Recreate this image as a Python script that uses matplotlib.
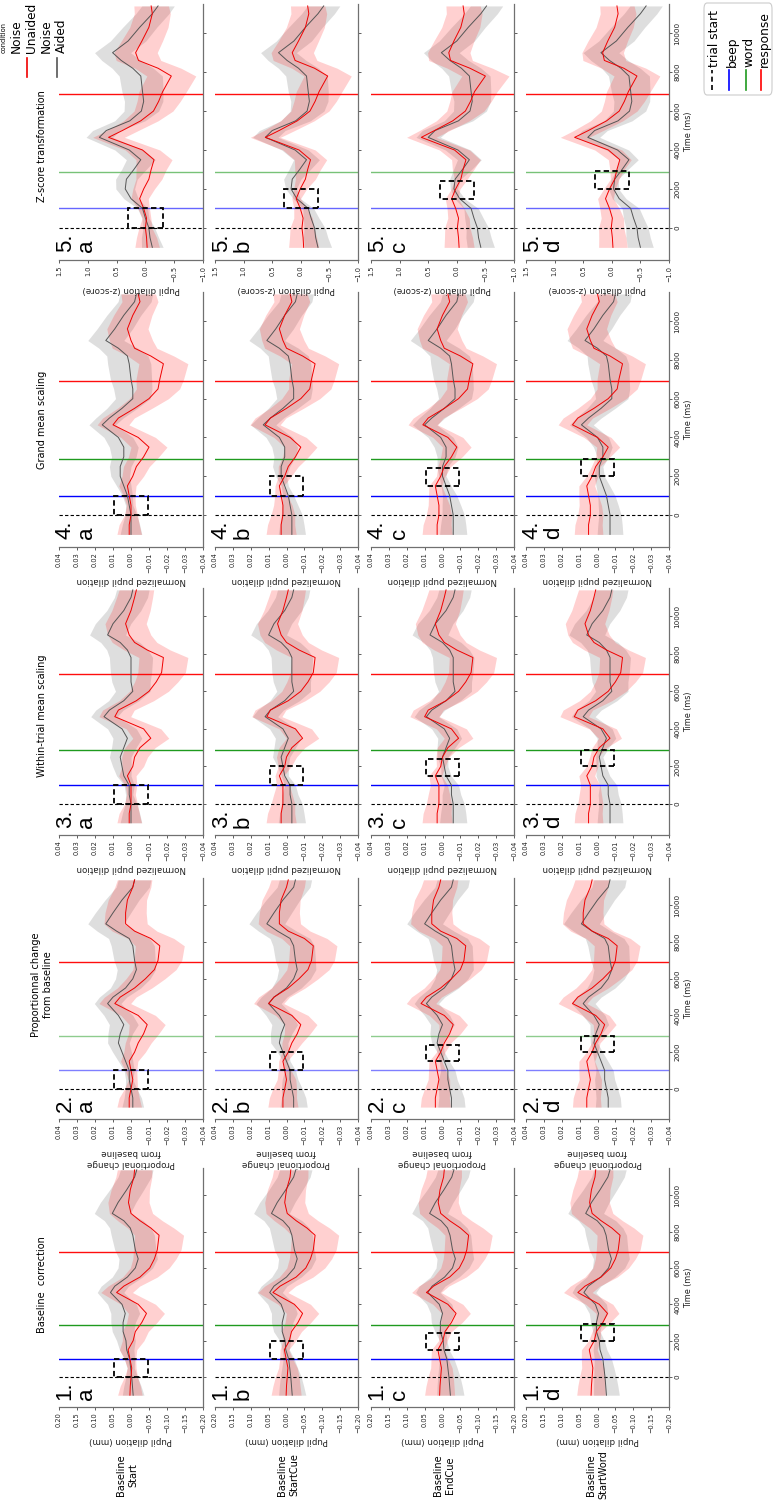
import numpy as np
import matplotlib
matplotlib.use("Agg")
import matplotlib.pyplot as plt
from matplotlib.patches import Rectangle, FancyBboxPatch
from matplotlib.lines import Line2D

plt.rcParams['font.family'] = ['DejaVu Sans']

W, H, DPI = 774, 1503, 100

# ---------------- data ----------------
time_ms = [-1000, -500, 0, 500, 1000, 1500, 2000, 2500, 3000, 3500, 4000, 4650, 5000,
           5500, 6000, 6500, 7000, 7800, 8200, 8600, 9000, 9600, 10300, 11000, 11400]

event_names = ['trial start', 'beep', 'word', 'response']
event_times = [0, 1000, 2870, 6900]

method_titles = ['Baseline  correction', 'Proportionnal change\nfrom baseline',
                 'Within-trial mean scaling', 'Grand mean scaling', 'Z-score transformation']
value_labels = ['Pupil dilation (mm)', 'Proportional change\nfrom baseline',
                'Normalized pupil dilation', 'Normalized pupil dilation', 'Pupil dilation (z-score)']
row_labels = ['Baseline\nStart', 'Baseline\nStartCue', 'Baseline\nEndCue', 'Baseline\nStartWord']
row_letters = ['a', 'b', 'c', 'd']
baseline_windows = [(0, 1000), (1000, 2000), (1500, 2400), (2000, 2900)]
value_limits = [(0.20, -0.20), (0.04, -0.04), (0.04, -0.04), (0.04, -0.04), (1.5, -1.0)]
ticks_mm = [0.20, 0.15, 0.10, 0.05, 0.00, -0.05, -0.10, -0.15, -0.20]
ticks_small = [0.04, 0.03, 0.02, 0.01, 0.00, -0.01, -0.02, -0.03, -0.04]
ticks_z = [1.5, 1.0, 0.5, 0.0, -0.5, -1.0]
box_halfwidth = [0.047, 0.0095, 0.0095, 0.0095, 0.3]
time_ticks = [0, 2000, 4000, 6000, 8000, 10000]

# Noise Unaided (red) and Noise Aided (grey) mean curves, rows a..d
m1_unaided = [
    [0.003, 0.002, 0.000, -0.002, 0.003, 0.008, -0.006, -0.012, -0.030, -0.043, -0.020, 0.040, 0.020, -0.025, -0.052, -0.065, -0.073, -0.078, -0.055, -0.025, 0.000, 0.007, 0.002, -0.008, -0.010],
    [0.001, 0.000, -0.002, -0.004, 0.001, 0.006, -0.008, -0.014, -0.032, -0.045, -0.022, 0.038, 0.018, -0.027, -0.054, -0.067, -0.075, -0.080, -0.057, -0.027, -0.002, 0.005, 0.000, -0.010, -0.012],
    [0.008, 0.007, 0.005, 0.003, 0.008, 0.013, -0.001, -0.007, -0.025, -0.038, -0.015, 0.045, 0.025, -0.020, -0.047, -0.060, -0.068, -0.073, -0.050, -0.020, 0.005, 0.012, 0.007, -0.003, -0.005],
    [0.018, 0.017, 0.015, 0.013, 0.018, 0.023, 0.009, 0.003, -0.015, -0.028, -0.005, 0.055, 0.035, -0.010, -0.037, -0.050, -0.058, -0.063, -0.040, -0.010, 0.015, 0.022, 0.017, 0.007, 0.005],
]
m1_aided = [
    [-0.006, -0.004, -0.002, 0.001, 0.004, 0.012, 0.014, 0.022, 0.022, 0.016, 0.025, 0.057, 0.045, 0.010, -0.012, -0.020, -0.012, -0.005, 0.002, 0.020, 0.052, 0.036, 0.012, -0.010, -0.016],
    [-0.016, -0.014, -0.012, -0.009, -0.006, 0.002, 0.004, 0.012, 0.012, 0.006, 0.015, 0.047, 0.035, 0.000, -0.022, -0.030, -0.022, -0.015, -0.008, 0.010, 0.042, 0.026, 0.002, -0.020, -0.026],
    [-0.022, -0.020, -0.018, -0.015, -0.012, -0.004, -0.002, 0.006, 0.006, 0.000, 0.009, 0.041, 0.029, -0.006, -0.028, -0.036, -0.028, -0.021, -0.014, 0.004, 0.036, 0.020, -0.004, -0.026, -0.032],
    [-0.025, -0.023, -0.021, -0.018, -0.015, -0.007, -0.005, 0.003, 0.003, -0.003, 0.006, 0.038, 0.026, -0.009, -0.031, -0.039, -0.031, -0.024, -0.017, 0.001, 0.033, 0.017, -0.007, -0.029, -0.035],
]
m2_unaided = [
    [0.001, 0.001, 0.000, -0.001, 0.000, 0.001, -0.002, -0.004, -0.007, -0.009, -0.004, 0.009, 0.006, -0.002, -0.008, -0.013, -0.015, -0.016, -0.011, -0.002, 0.003, 0.003, 0.002, -0.001, -0.002],
    [0.002, 0.002, 0.001, 0.000, 0.001, 0.002, -0.001, -0.003, -0.006, -0.008, -0.003, 0.010, 0.007, -0.001, -0.007, -0.012, -0.014, -0.015, -0.010, -0.001, 0.004, 0.004, 0.003, 0.000, -0.001],
    [0.004, 0.004, 0.003, 0.002, 0.003, 0.004, 0.001, -0.001, -0.004, -0.006, -0.001, 0.012, 0.009, 0.001, -0.005, -0.010, -0.012, -0.013, -0.008, 0.001, 0.006, 0.006, 0.005, 0.002, 0.001],
    [0.006, 0.006, 0.005, 0.004, 0.005, 0.006, 0.003, 0.001, -0.002, -0.004, 0.001, 0.014, 0.011, 0.003, -0.003, -0.008, -0.010, -0.011, -0.006, 0.003, 0.008, 0.008, 0.007, 0.004, 0.003],
]
m2_aided = [
    [-0.001, -0.001, 0.000, 0.001, 0.001, 0.003, 0.005, 0.007, 0.006, 0.004, 0.007, 0.013, 0.010, 0.003, -0.001, -0.003, -0.002, -0.001, 0.001, 0.008, 0.014, 0.010, 0.005, -0.001, -0.002],
    [-0.004, -0.004, -0.003, -0.002, -0.002, 0.000, 0.002, 0.004, 0.003, 0.001, 0.004, 0.010, 0.007, 0.000, -0.004, -0.006, -0.005, -0.004, -0.002, 0.005, 0.011, 0.007, 0.002, -0.004, -0.005],
    [-0.005, -0.005, -0.004, -0.003, -0.003, -0.001, 0.001, 0.003, 0.002, 0.000, 0.003, 0.009, 0.006, -0.001, -0.005, -0.007, -0.006, -0.005, -0.003, 0.004, 0.010, 0.006, 0.001, -0.005, -0.006],
    [-0.006, -0.006, -0.005, -0.004, -0.004, -0.002, 0.000, 0.002, 0.001, -0.001, 0.002, 0.008, 0.005, -0.002, -0.006, -0.008, -0.007, -0.006, -0.004, 0.003, 0.009, 0.005, 0.000, -0.006, -0.007],
]
m3_unaided = [
    [0.001, 0.001, 0.000, 0.000, 0.000, 0.002, -0.001, -0.002, -0.005, -0.011, -0.007, 0.009, 0.007, -0.003, -0.010, -0.014, -0.017, -0.018, -0.009, -0.002, 0.001, 0.003, 0.000, -0.002, -0.003],
    [0.003, 0.003, 0.002, 0.002, 0.002, 0.004, 0.001, 0.000, -0.003, -0.009, -0.005, 0.011, 0.009, -0.001, -0.008, -0.012, -0.015, -0.016, -0.007, 0.000, 0.003, 0.005, 0.002, 0.000, -0.001],
    [0.003, 0.003, 0.002, 0.002, 0.002, 0.004, 0.001, 0.000, -0.003, -0.009, -0.005, 0.010, 0.008, -0.002, -0.009, -0.013, -0.016, -0.017, -0.008, -0.001, 0.002, 0.004, 0.001, -0.001, -0.002],
    [0.005, 0.005, 0.004, 0.004, 0.004, 0.006, 0.003, 0.002, -0.001, -0.007, -0.003, 0.013, 0.011, 0.001, -0.006, -0.010, -0.013, -0.014, -0.005, 0.002, 0.005, 0.007, 0.004, 0.002, 0.001],
]
m3_aided = [
    [0.000, 0.000, 0.000, 0.001, 0.001, 0.004, 0.005, 0.006, 0.004, 0.002, 0.005, 0.015, 0.012, 0.004, -0.001, 0.000, 0.000, 0.000, 0.002, 0.006, 0.013, 0.010, 0.004, 0.000, -0.001],
    [-0.003, -0.003, -0.003, -0.002, -0.002, 0.001, 0.002, 0.003, 0.001, -0.001, 0.002, 0.012, 0.009, 0.001, -0.004, -0.003, -0.003, -0.003, -0.001, 0.003, 0.010, 0.007, 0.001, -0.003, -0.004],
    [-0.006, -0.006, -0.006, -0.005, -0.005, -0.002, -0.001, 0.000, -0.002, -0.004, -0.001, 0.009, 0.006, -0.002, -0.007, -0.006, -0.006, -0.006, -0.004, 0.000, 0.007, 0.004, -0.002, -0.006, -0.007],
    [-0.007, -0.007, -0.007, -0.006, -0.006, -0.003, -0.002, -0.001, -0.003, -0.005, -0.002, 0.008, 0.005, -0.003, -0.008, -0.007, -0.007, -0.007, -0.005, -0.001, 0.006, 0.003, -0.003, -0.007, -0.008],
]
m4_unaided = [
    [0.001, 0.001, 0.000, 0.000, 0.001, 0.002, -0.001, -0.003, -0.007, -0.010, -0.004, 0.010, 0.007, -0.002, -0.010, -0.015, -0.016, -0.018, -0.011, -0.002, 0.000, 0.002, -0.001, -0.005, -0.004],
    [0.003, 0.003, 0.002, 0.002, 0.003, 0.004, 0.001, -0.001, -0.005, -0.008, -0.002, 0.012, 0.009, 0.000, -0.008, -0.013, -0.014, -0.016, -0.009, 0.000, 0.002, 0.004, 0.001, -0.003, -0.002],
    [0.003, 0.003, 0.002, 0.002, 0.003, 0.004, 0.001, -0.001, -0.005, -0.008, -0.003, 0.011, 0.008, -0.001, -0.009, -0.014, -0.015, -0.017, -0.010, -0.001, 0.001, 0.003, 0.000, -0.004, -0.003],
    [0.005, 0.005, 0.004, 0.004, 0.005, 0.006, 0.003, 0.001, -0.003, -0.006, 0.000, 0.014, 0.011, 0.002, -0.006, -0.011, -0.012, -0.014, -0.007, 0.002, 0.004, 0.006, 0.003, -0.001, 0.000],
]
m4_aided = [
    [0.000, 0.000, 0.000, 0.001, 0.002, 0.004, 0.006, 0.006, 0.004, 0.004, 0.007, 0.016, 0.012, 0.005, -0.001, -0.001, 0.000, 0.001, 0.002, 0.007, 0.014, 0.009, 0.004, -0.002, -0.003],
    [-0.003, -0.003, -0.003, -0.002, -0.001, 0.001, 0.003, 0.003, 0.001, 0.001, 0.004, 0.013, 0.009, 0.002, -0.004, -0.004, -0.003, -0.002, -0.001, 0.004, 0.011, 0.006, 0.001, -0.005, -0.006],
    [-0.006, -0.006, -0.006, -0.005, -0.004, -0.002, 0.000, 0.000, -0.002, -0.002, 0.001, 0.010, 0.006, -0.001, -0.007, -0.007, -0.006, -0.005, -0.004, 0.001, 0.008, 0.003, -0.002, -0.008, -0.009],
    [-0.007, -0.007, -0.007, -0.006, -0.005, -0.003, -0.001, -0.001, -0.003, -0.003, 0.000, 0.009, 0.005, -0.002, -0.008, -0.008, -0.007, -0.006, -0.005, 0.000, 0.007, 0.002, -0.003, -0.009, -0.010],
]
m5_unaided = [
    [-0.03, -0.02, 0.00, -0.02, 0.03, 0.10, 0.03, -0.06, -0.10, -0.15, 0.05, 0.64, 0.40, 0.08, -0.14, -0.23, -0.30, -0.45, -0.22, 0.12, 0.17, 0.06, -0.06, -0.12, -0.10],
    [-0.05, -0.04, -0.02, -0.04, 0.01, 0.08, 0.01, -0.08, -0.12, -0.17, 0.03, 0.62, 0.38, 0.06, -0.16, -0.25, -0.32, -0.47, -0.24, 0.10, 0.15, 0.04, -0.08, -0.14, -0.12],
    [-0.04, -0.03, -0.01, -0.03, 0.02, 0.09, 0.02, -0.07, -0.11, -0.16, 0.04, 0.62, 0.39, 0.07, -0.15, -0.24, -0.31, -0.50, -0.23, 0.11, 0.14, 0.05, -0.07, -0.13, -0.11],
    [-0.02, -0.01, 0.01, -0.01, 0.04, 0.11, 0.04, -0.05, -0.09, -0.14, 0.06, 0.65, 0.41, 0.09, -0.13, -0.22, -0.29, -0.44, -0.21, 0.13, 0.16, 0.07, -0.05, -0.11, -0.09],
]
m5_aided = [
    [-0.12, -0.08, -0.06, 0.00, 0.05, 0.25, 0.35, 0.33, 0.20, 0.08, 0.28, 0.80, 0.68, 0.27, 0.07, 0.03, 0.05, 0.08, 0.22, 0.42, 0.57, 0.30, 0.10, -0.12, -0.22],
    [-0.30, -0.26, -0.24, -0.18, -0.13, 0.07, 0.17, 0.15, 0.02, -0.10, 0.10, 0.62, 0.50, 0.09, -0.11, -0.15, -0.13, -0.10, 0.04, 0.24, 0.39, 0.12, -0.08, -0.30, -0.40],
    [-0.42, -0.38, -0.36, -0.30, -0.25, -0.05, 0.05, 0.03, -0.10, -0.22, -0.02, 0.50, 0.38, -0.03, -0.23, -0.27, -0.25, -0.22, -0.08, 0.12, 0.27, 0.00, -0.20, -0.42, -0.52],
    [-0.50, -0.46, -0.44, -0.38, -0.33, -0.13, -0.03, -0.05, -0.18, -0.30, -0.10, 0.42, 0.30, -0.11, -0.31, -0.35, -0.33, -0.30, -0.16, 0.04, 0.19, -0.08, -0.28, -0.50, -0.60],
]

# confidence band half-widths, as fraction of the value-axis span (rows a..d)
band_unaided = [
    [0.085, 0.070, 0.045, 0.030, 0.040, 0.060, 0.075, 0.090, 0.105, 0.125, 0.120, 0.110, 0.110, 0.120, 0.135, 0.150, 0.165, 0.170, 0.160, 0.155, 0.150, 0.143, 0.133, 0.125, 0.120],
    [0.105, 0.095, 0.083, 0.065, 0.045, 0.030, 0.045, 0.070, 0.090, 0.113, 0.113, 0.105, 0.108, 0.118, 0.133, 0.148, 0.160, 0.165, 0.158, 0.153, 0.148, 0.140, 0.133, 0.125, 0.120],
    [0.105, 0.098, 0.088, 0.075, 0.060, 0.045, 0.030, 0.045, 0.075, 0.100, 0.105, 0.103, 0.105, 0.115, 0.130, 0.145, 0.158, 0.165, 0.158, 0.153, 0.148, 0.140, 0.133, 0.125, 0.120],
    [0.100, 0.095, 0.088, 0.078, 0.068, 0.055, 0.040, 0.030, 0.050, 0.080, 0.095, 0.100, 0.103, 0.113, 0.125, 0.140, 0.153, 0.160, 0.155, 0.150, 0.145, 0.138, 0.130, 0.125, 0.120],
]
band_aided = [
    [0.075, 0.060, 0.040, 0.025, 0.035, 0.050, 0.065, 0.075, 0.085, 0.100, 0.100, 0.092, 0.095, 0.105, 0.120, 0.133, 0.143, 0.150, 0.143, 0.135, 0.125, 0.123, 0.118, 0.115, 0.113],
    [0.095, 0.085, 0.073, 0.055, 0.038, 0.025, 0.038, 0.060, 0.075, 0.090, 0.093, 0.088, 0.090, 0.103, 0.118, 0.130, 0.140, 0.145, 0.140, 0.133, 0.125, 0.123, 0.118, 0.115, 0.113],
    [0.095, 0.088, 0.078, 0.065, 0.050, 0.035, 0.025, 0.038, 0.063, 0.083, 0.088, 0.085, 0.090, 0.100, 0.115, 0.128, 0.138, 0.145, 0.138, 0.130, 0.125, 0.123, 0.118, 0.115, 0.113],
    [0.090, 0.085, 0.078, 0.070, 0.060, 0.048, 0.035, 0.025, 0.040, 0.065, 0.078, 0.083, 0.088, 0.098, 0.113, 0.125, 0.135, 0.143, 0.135, 0.130, 0.125, 0.123, 0.118, 0.115, 0.113],
]

# ---------------- layout (pixels of the 774x1503 canvas) ----------------
row_x = [(59, 203), (215, 358), (371, 514), (526, 669)]
method_y = [(1168, 1407), (878, 1119), (588, 835), (292, 547), (4, 260)]
title_y = [1285, 985, 716, 420, 146]
row_label_x = [127, 288, 444, 597]
event_alpha = [1.0, 0.5, 1.0, 1.0, 0.6]

RED = '#f00000'
GREY_LINE = '#555555'
SPINE = '#707070'


def fx(x):
    return x / W


def fy(y):
    return 1 - y / H


def fmt(v, nd):
    s = f"{v:.{nd}f}"
    return s.replace('-', '\u2212')


fig = plt.figure(figsize=(W / DPI, H / DPI), dpi=DPI)
fig.patch.set_facecolor('white')

unaided_sets = [m1_unaided, m2_unaided, m3_unaided, m4_unaided, m5_unaided]
aided_sets = [m1_aided, m2_aided, m3_aided, m4_aided, m5_aided]
tick_sets = [ticks_mm, ticks_small, ticks_small, ticks_small, ticks_z]
tick_dec = [2, 2, 2, 2, 1]
t = np.array(time_ms, dtype=float)

for mi in range(5):
    vmax, vmin = value_limits[mi]
    span = vmax - vmin
    y0, y1 = method_y[mi]
    for ri in range(4):
        x0, x1 = row_x[ri]
        ax = fig.add_axes([fx(x0), fy(y1), (x1 - x0) / W, (y1 - y0) / H])
        ax.set_xlim(vmax, vmin)
        ax.set_ylim(-1650, 11500)
        ax.set_facecolor('none')

        u = np.array(unaided_sets[mi][ri])
        a = np.array(aided_sets[mi][ri])
        hu = np.array(band_unaided[ri]) * span
        hg = np.array(band_aided[ri]) * span
        ax.fill_betweenx(t, a - hg, a + hg, color='#9c9c9c', alpha=0.33, lw=0, zorder=1)
        ax.fill_betweenx(t, u - hu, u + hu, color='#ff2a2a', alpha=0.22, lw=0, zorder=1.1)

        ax.axhline(event_times[0], color='black', ls=(0, (3, 2)), lw=0.8, zorder=2)
        ax.axhline(event_times[1], color='blue', lw=1.0, alpha=event_alpha[mi], zorder=2)
        ax.axhline(event_times[2], color='#1f9a1f', lw=1.0, alpha=event_alpha[mi], zorder=2)
        ax.axhline(event_times[3], color='red', lw=1.0, alpha=0.95, zorder=2)

        ax.plot(a, t, color=GREY_LINE, lw=0.7, zorder=3)
        ax.plot(u, t, color=RED, lw=0.7, zorder=3)

        b0, b1 = baseline_windows[ri]
        bh = box_halfwidth[mi]
        ax.add_patch(Rectangle((-bh, b0), 2 * bh, b1 - b0, fill=False, ec='black',
                               lw=1.3, ls=(0, (3, 1.8)), zorder=4))

        for s in ['top', 'left']:
            ax.spines[s].set_visible(False)
        for s in ['bottom', 'right']:
            ax.spines[s].set_color(SPINE)
            ax.spines[s].set_linewidth(0.9)

        ticks = tick_sets[mi]
        ax.set_xticks(ticks)
        ax.set_xticklabels([fmt(v, tick_dec[mi]) for v in ticks], rotation=90, fontsize=4.8)
        ax.tick_params(axis='x', length=2.5, width=0.6, pad=1.5, color='#444444',
                       labelcolor='#222222')
        ax.set_xlabel(value_labels[mi], rotation=180, fontsize=6.3, labelpad=2.5,
                      color='#222222', linespacing=1.2)

        ax.yaxis.tick_right()
        ax.set_yticks(time_ticks)
        if ri == 3:
            ax.set_yticklabels([str(v) for v in time_ticks], rotation=90, fontsize=5.2,
                               va='center')
            ax.yaxis.set_label_position('right')
            ax.set_ylabel('Time (ms)', rotation=90, fontsize=5.8, labelpad=2.5,
                          color='#222222')
        else:
            ax.set_yticklabels([])
        ax.tick_params(axis='y', length=2.5, width=0.6, pad=1.5, color='#444444',
                       labelcolor='#222222')

        ax.text(-0.03, 0.03, f"{mi + 1}.\n{row_letters[ri]}", transform=ax.transAxes,
                rotation=90, ha='left', va='bottom', multialignment='left',
                fontsize=16, family=['Liberation Sans', 'DejaVu Sans'], linespacing=1.05,
                zorder=5)

    fig.text(fx(42), fy(title_y[mi]), method_titles[mi], rotation=90, ha='center',
             va='center', fontsize=7, multialignment='center', linespacing=1.3)

for ri in range(4):
    fig.text(fx(row_label_x[ri]), fy(1475), row_labels[ri], rotation=90, ha='center',
             va='center', fontsize=7, multialignment='center', linespacing=1.35)

# ---------------- condition legend (top-left) ----------------
fig.text(fx(4), fy(53), 'condition', rotation=90, ha='center', va='bottom', fontsize=4.8)
cond_labels = ['Noise\nUnaided', 'Noise\nAided']
cond_colors = [RED, GREY_LINE]
cond_text_x = [10, 40]
cond_handle_x = [27, 57]
for lab, col, tx, hx in zip(cond_labels, cond_colors, cond_text_x, cond_handle_x):
    fig.text(fx(tx), fy(53), lab, rotation=90, ha='left', va='bottom',
             multialignment='left', fontsize=8.7, linespacing=1.2)
    fig.add_artist(Line2D([fx(hx), fx(hx)], [fy(77), fy(58)], color=col, lw=1.2,
                          transform=fig.transFigure))

# ---------------- event legend (top-right) ----------------
fig.add_artist(FancyBboxPatch((fx(704), fy(95)), 68 / W, 92 / H,
                              boxstyle='round,pad=0,rounding_size=0.004',
                              transform=fig.transFigure, fc='white', ec='#cccccc', lw=0.8))
ev_handle_x = [712, 729, 746, 761]
ev_styles = [dict(color='black', ls=(0, (3, 2)), lw=1.2),
             dict(color='blue', lw=1.2),
             dict(color='#1f9a1f', lw=1.2),
             dict(color='red', lw=1.2)]
for name, hx, st in zip(event_names, ev_handle_x, ev_styles):
    fig.add_artist(Line2D([fx(hx), fx(hx)], [fy(90), fy(70)], transform=fig.transFigure, **st))
    fig.text(fx(hx + 3), fy(67), name, rotation=90, ha='center', va='bottom', fontsize=8.8)

fig.savefig('out.png', dpi=DPI)
